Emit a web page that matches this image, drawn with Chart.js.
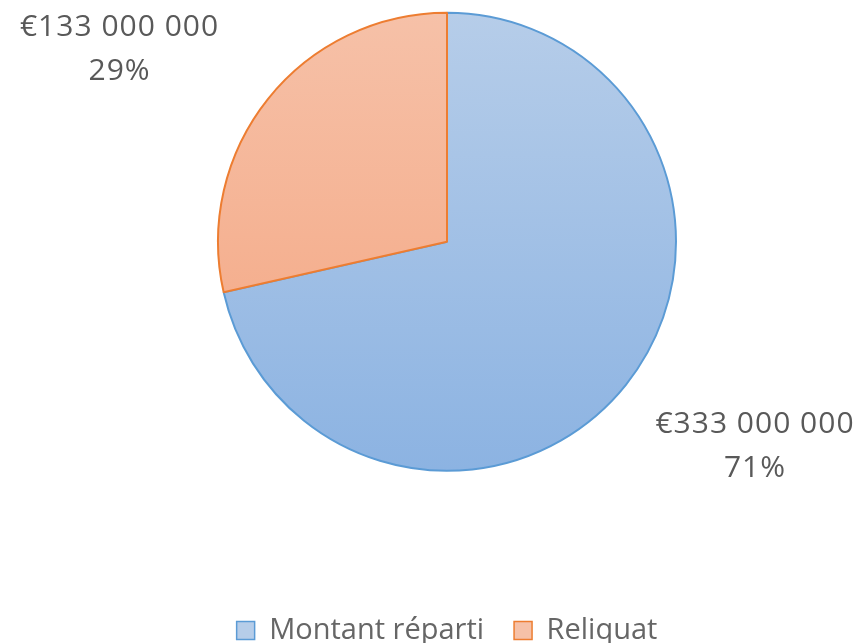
<!DOCTYPE html>
<html>
<head>
<meta charset="utf-8">
<script src="https://cdn.jsdelivr.net/npm/chart.js@4/dist/chart.umd.min.js"></script>
<style>
  html, body { margin:0; padding:0; background:#fff; overflow:hidden; }
  #wrap { width:856px; height:660px; }
</style>
</head>
<body>
<div id="wrap"><canvas id="pie" width="856" height="660"></canvas></div>
<script>
// data
const categories = ['Montant réparti', 'Reliquat'];
const amounts = [333000000, 133000000];
const percentLabels = ['71%', '29%'];

// colours (top / bottom of gradient, border)
const topColors = ['#b6cde9', '#f6c1a8'];
const bottomColors = ['#8cb3e2', '#f4a47f'];
const borderColors = ['#5b9bd5', '#ed7d31'];
const pieRadius = 229;
// label placement relative to centre, in radius units
const labelOffsets = [[1.345, 0.895], [-1.43, -0.84]];

function money(v){ return '€' + v.toString().replace(/\B(?=(\d{3})+(?!\d))/g, ' '); }

function gradFor(ctx, i){
  const chart = ctx.chart;
  const area = chart.chartArea;
  if(!area || !isFinite(area.top)) return topColors[i];
  const cy = (area.top + area.bottom) / 2;
  const g = chart.ctx.createLinearGradient(0, cy - pieRadius, 0, cy + pieRadius);
  g.addColorStop(0, topColors[i]);
  g.addColorStop(1, bottomColors[i]);
  return g;
}

const outsideLabels = {
  id: 'outsideLabels',
  afterDatasetsDraw(chart){
    const ctx = chart.ctx;
    const meta = chart.getDatasetMeta(0);
    ctx.save();
    ctx.fillStyle = '#595959';
    ctx.font = '30px "Open Sans"';
    ctx.letterSpacing = '1px';
    ctx.textAlign = 'center';
    ctx.textBaseline = 'middle';
    meta.data.forEach((arc, i) => {
      const r = arc.outerRadius;
      const x = arc.x + labelOffsets[i][0] * r;
      const y = arc.y + labelOffsets[i][1] * r;
      ctx.fillText(money(amounts[i]), x, y - 22);
      ctx.fillText(percentLabels[i], x, y + 22);
    });
    ctx.restore();
  }
};

new Chart(document.getElementById('pie'), {
  type: 'pie',
  data: {
    labels: categories,
    datasets: [{
      data: amounts,
      backgroundColor: ctx => gradFor(ctx, ctx.dataIndex),
      borderColor: borderColors,
      borderWidth: 2,
      radius: pieRadius
    }]
  },
  options: {
    responsive: false,
    animation: false,
    layout: { padding: { top: 13, left: 38, right: 0, bottom: 5 } },
    plugins: {
      tooltip: { enabled: false },
      legend: {
        position: 'bottom',
        title: { display: true, text: '', padding: { top: 101, bottom: 0 } },
        labels: {
          color: '#595959',
          font: { family: '"Open Sans"', size: 29 },
          boxWidth: 18,
          boxHeight: 18,
          padding: 30,
          generateLabels(chart){
            return categories.map((c, i) => ({
              text: c,
              fillStyle: topColors[i],
              strokeStyle: borderColors[i],
              lineWidth: 1.5,
              index: i
            }));
          }
        }
      }
    }
  },
  plugins: [outsideLabels]
});
</script>
</body>
</html>
